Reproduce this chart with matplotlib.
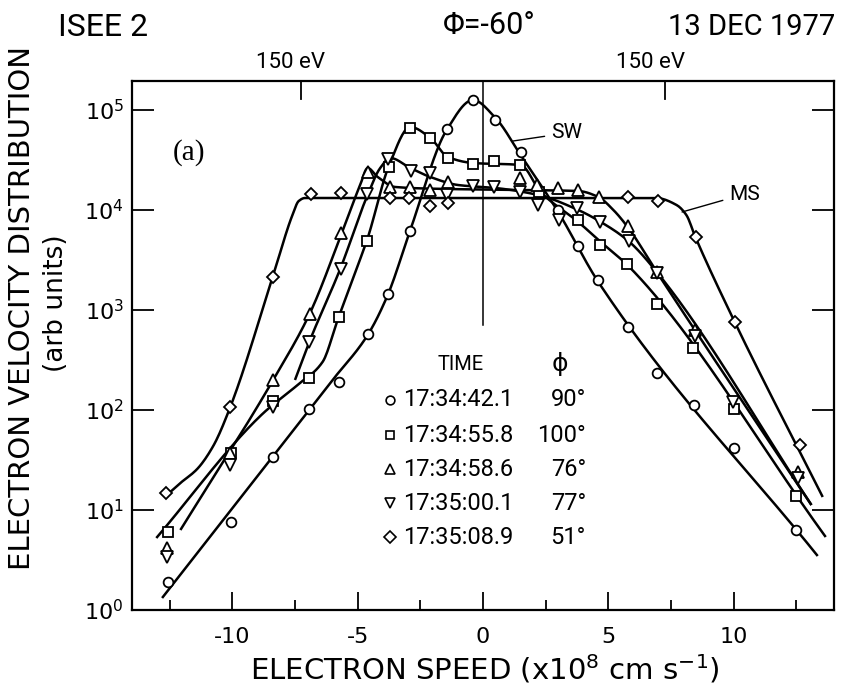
import numpy as np
import matplotlib
matplotlib.use("Agg")
import matplotlib.pyplot as plt
from matplotlib.lines import Line2D
from matplotlib import font_manager as fm
from matplotlib.ticker import FixedLocator, FixedFormatter, NullLocator

# ---------------- data (electron speed in 1e8 cm/s, distribution arb units) ----------------
# 17:34:42.1  (circles, "SW")
c_x = [-12.55, -10.04, -8.37, -6.93, -5.74, -4.58, -3.78, -2.91, -1.43, -0.40, 0.48, 1.51,
       3.00, 3.78, 4.58, 5.78, 6.93, 8.41, 10.0, 12.5]
c_y = [1.9, 7.6, 34, 102, 190, 575, 1450, 6200, 65000, 126000, 79000, 38000,
       10000, 4400, 2000, 680, 234, 112, 42, 6.3]
# 17:34:55.8  (squares)
s_x = [-12.55, -10.04, -8.37, -6.93, -5.76, -4.62, -3.76, -2.91, -2.11, -1.39, -0.40, 0.44,
       1.47, 2.25, 3.78, 4.66, 5.76, 6.93, 8.39, 10.0, 12.5]
s_y = [6.0, 37, 123, 209, 850, 4900, 27000, 66000, 52500, 33000, 29000, 31000,
       28000, 15000, 7900, 4500, 2900, 1150, 417, 102, 13.8]
# 17:34:58.6  (triangles)
t_x = [-12.6, -10.08, -8.37, -6.89, -5.66, -4.58, -3.70, -2.93, -2.11, -1.39, 1.47, 2.17,
       2.99, 3.78, 4.62, 5.78, 6.93, 8.45, 12.55]
t_y = [4.2, 37, 200, 910, 5900, 24000, 17000, 17000, 15800, 19000, 21000, 17800,
       16600, 15800, 13500, 6900, 2400, 630, 24]
# 17:35:00.1  (inverted triangles)
v_x = [-12.6, -10.08, -8.37, -6.93, -5.68, -4.62, -3.78, -2.87, -2.11, -1.43, -0.40, 0.44,
       1.47, 2.19, 3.03, 3.75, 4.66, 5.82, 6.93, 8.45, 9.96, 12.55]
v_y = [3.4, 28, 107, 480, 2600, 14500, 32000, 24500, 23500, 14000, 17400, 17000,
       15000, 11200, 7900, 10500, 7600, 4900, 2350, 550, 120, 21]
# 17:35:08.9  (diamonds, "MS")
d_x = [-12.63, -10.08, -8.37, -6.85, -5.66, -3.70, -2.95, -2.11, -1.39, 5.78, 6.97, 8.49,
       10.04, 12.63]
d_y = [14.8, 107, 2140, 14500, 14800, 13200, 13200, 11000, 11700, 13500, 12300, 5400,
       760, 45]

# hand-drawn fit curves: nodes (x, log10 y)
c_curve_x = [-12.8, -6.0, -4.6, -3.8, -2.9, -1.45, -0.4, 0.5, 1.5, 3.0, 4.6, 13.35]
c_curve_ly = [0.12, 2.3, 2.75, 3.15, 3.8, 4.8, 5.10, 4.92, 4.55, 3.98, 3.28, 0.54]
s_curve_x = [-13.03, -8.8, -7.4, -6.4, -5.8, -5.06, -4.6, -3.74, -2.9, -2.1, -1.4, -0.4,
             1.5, 2.3, 3.8, 4.7, 5.8, 13.67]
s_curve_ly = [0.72, 1.96, 2.25, 2.48, 2.9, 3.4, 3.72, 4.45, 4.83, 4.72, 4.53, 4.47,
              4.45, 4.18, 3.88, 3.68, 3.44, 0.73]
t_curve_x = [-12.07, -8.37, -6.9, -5.66, -4.9, -4.6, -4.2, -3.5, -1.4, 1.5, 3.8, 4.6,
             5.2, 5.8, 6.93, 13.1]
t_curve_ly = [0.8, 2.3, 2.97, 3.75, 4.25, 4.42, 4.33, 4.23, 4.21, 4.2, 4.19, 4.13,
              4.0, 3.82, 3.38, 1.05]
v_curve_x = [-7.5, -6.93, -5.68, -4.62, -4.1, -3.7, -2.9, -2.1, -1.0, 0.5, 2.2, 3.8,
             4.7, 5.8, 6.93, 13.1]
v_curve_ly = [2.3, 2.68, 3.42, 4.14, 4.42, 4.52, 4.42, 4.33, 4.25, 4.22, 4.15, 4.0,
              3.88, 3.69, 3.38, 1.05]
d_curve_x = [-12.7, -12.07, -11.4, -10.76, -10.08, -8.4, -7.6, -7.35, -7.1, 6.9, 7.72,
             8.11, 8.47, 10.04, 13.55]
d_curve_ly = [1.13, 1.27, 1.41, 1.64, 2.03, 3.32, 3.95, 4.09, 4.12, 4.12, 4.05,
              3.95, 3.73, 2.88, 1.13]

times = ["17:34:42.1", "17:34:55.8", "17:34:58.6", "17:35:00.1", "17:35:08.9"]
phis = ["90°", "100°", "76°", "77°", "51°"]
markers = ["o", "s", "^", "v", "D"]
msizes = [7, 6.5, 8, 8, 6.5]

xticks = [-10, -5, 0, 5, 10]
xtick_labels = ["-10", "-5", "0", "5", "10"]
xminor = [-12.5, -7.5, -2.5, 2.5, 7.5, 12.5]
ev150 = 7.26  # 150 eV electron speed

# ---------------- fonts ----------------
avail = {f.name for f in fm.fontManager.ttflist}
FONT = "Roboto" if "Roboto" in avail else "DejaVu Sans"
WIDE = ["DejaVu Sans"]
plt.rcParams["font.family"] = [FONT, "DejaVu Sans"]
plt.rcParams["mathtext.fontset"] = "custom"
plt.rcParams["mathtext.rm"] = "DejaVu Sans"


def pchip(xk, yk, xs):
    xk = np.asarray(xk, float)
    yk = np.asarray(yk, float)
    h = np.diff(xk)
    d = np.diff(yk) / h
    n = len(xk)
    m = np.zeros(n)
    m[0], m[-1] = d[0], d[-1]
    for k in range(1, n - 1):
        if d[k - 1] * d[k] <= 0:
            m[k] = 0.0
        else:
            w1 = 2 * h[k] + h[k - 1]
            w2 = h[k] + 2 * h[k - 1]
            m[k] = (w1 + w2) / (w1 / d[k - 1] + w2 / d[k])
    idx = np.clip(np.searchsorted(xk, xs) - 1, 0, n - 2)
    t = (xs - xk[idx]) / h[idx]
    h00 = 2 * t**3 - 3 * t**2 + 1
    h10 = t**3 - 2 * t**2 + t
    h01 = -2 * t**3 + 3 * t**2
    h11 = t**3 - t**2
    return (h00 * yk[idx] + h10 * h[idx] * m[idx] + h01 * yk[idx + 1]
            + h11 * h[idx] * m[idx + 1])


W, H = 842, 689
fig = plt.figure(figsize=(W / 100, H / 100), dpi=100)


def fx(px):
    return px / W


def fy(py):
    return 1 - py / H


ax = fig.add_axes([fx(132), fy(610), (834 - 132) / W, (610 - 81) / H])
ax.set_yscale("log")
ax.set_xlim(-14, 14)
ax.set_ylim(1, 10 ** 5.29)

for sp in ax.spines.values():
    sp.set_linewidth(1.6)

# curves
curves = [(c_curve_x, c_curve_ly), (s_curve_x, s_curve_ly), (t_curve_x, t_curve_ly),
          (v_curve_x, v_curve_ly), (d_curve_x, d_curve_ly)]
for cx, cly in curves:
    xs = np.linspace(cx[0], cx[-1], 600)
    ax.plot(xs, 10 ** pchip(cx, cly, xs), color="black", lw=1.8, zorder=2,
            solid_capstyle="butt")

# points
series = [(c_x, c_y), (s_x, s_y), (t_x, t_y), (v_x, v_y), (d_x, d_y)]
for (sx, sy), mk, ms in zip(series, markers, msizes):
    ax.plot(sx, sy, linestyle="none", marker=mk, ms=ms, mfc="white", mec="black",
            mew=1.3, zorder=3)

# central line and 150 eV ticks at top
ax.plot([0, 0], [10 ** 2.85, 10 ** 5.29], color="black", lw=1.1, zorder=1)
for sgn in (-1, 1):
    ax.plot([sgn * ev150] * 2, [10 ** 5.11, 10 ** 5.29], color="black", lw=1.3,
            zorder=1, clip_on=False)

# ticks
ax.xaxis.set_major_locator(FixedLocator(xticks))
ax.xaxis.set_major_formatter(FixedFormatter(xtick_labels))
ax.xaxis.set_minor_locator(FixedLocator(xminor))
ax.yaxis.set_major_locator(FixedLocator([1, 10, 100, 1e3, 1e4, 1e5]))
ax.yaxis.set_major_formatter(FixedFormatter([r"$\mathregular{10^{%d}}$" % k for k in range(6)]))
ax.yaxis.set_minor_locator(NullLocator())
ax.tick_params(axis="x", which="major", direction="in", length=13, width=1.3,
               labelsize=16, pad=12, top=False)
ax.tick_params(axis="x", which="minor", direction="in", length=7, width=1.3, top=False)
ax.tick_params(axis="y", which="major", direction="in", length=16, width=1.3,
               labelsize=16, pad=6, right=True)
for lab in ax.get_xticklabels() + ax.get_yticklabels():
    lab.set_family(WIDE)

# labels
fig.text(fx(485), fy(669), r"ELECTRON SPEED (x10$\mathregular{^8}$ cm s$\mathregular{^{-1}}$)",
         ha="center", va="center", fontsize=21, family=WIDE)
fig.text(fx(22), fy(308), "ELECTRON VELOCITY DISTRIBUTION", rotation=90,
         ha="center", va="center", fontsize=21, family=WIDE)
fig.text(fx(56), fy(303), "(arb units)", rotation=90, ha="center", va="center",
         fontsize=19, family=WIDE)

fig.text(fx(103), fy(27), "ISEE 2", ha="center", va="center", fontsize=23)
fig.text(fx(489), fy(25), "Φ=-60°", ha="center", va="center", fontsize=22)
fig.text(fx(835), fy(27), "13 DEC 1977", ha="right", va="center", fontsize=21)
fig.text(fx(290), fy(62), "150 eV", ha="center", va="center", fontsize=16)
fig.text(fx(650), fy(62), "150 eV", ha="center", va="center", fontsize=16)

ax.text(-11.73, 10 ** 4.57, "(a)", ha="center", va="center", fontsize=21,
        family=["Liberation Serif", "DejaVu Serif"])
ax.annotate("SW", xy=(1.2, 10 ** 4.69), xytext=(3.35, 10 ** 4.77), ha="center",
            va="center", fontsize=15,
            arrowprops=dict(arrowstyle="-", lw=1.0, color="black", shrinkA=3, shrinkB=0))
ax.annotate("MS", xy=(7.94, 10 ** 3.98), xytext=(10.45, 10 ** 4.16), ha="center",
            va="center", fontsize=15,
            arrowprops=dict(arrowstyle="-", lw=1.0, color="black", shrinkA=3, shrinkB=0))

# legend table
fig.text(fx(461), fy(364), "TIME", ha="center", va="center", fontsize=14.5)
fig.text(fx(560), fy(364), "ϕ", ha="center", va="center", fontsize=18,
         family=["DejaVu Sans"])
row_y = [400, 435, 469, 503, 537]
for ry, mk, ms, tm, ph in zip(row_y, markers, msizes, times, phis):
    fig.add_artist(Line2D([fx(390)], [fy(ry)], marker=mk, ms=ms * 0.9, mfc="white",
                          mec="black", mew=1.2, linestyle="none",
                          transform=fig.transFigure))
    fig.text(fx(403), fy(ry), tm, ha="left", va="center", fontsize=17)
    fig.text(fx(586), fy(ry), ph, ha="right", va="center", fontsize=17)

fig.savefig("out.png", dpi=100)
